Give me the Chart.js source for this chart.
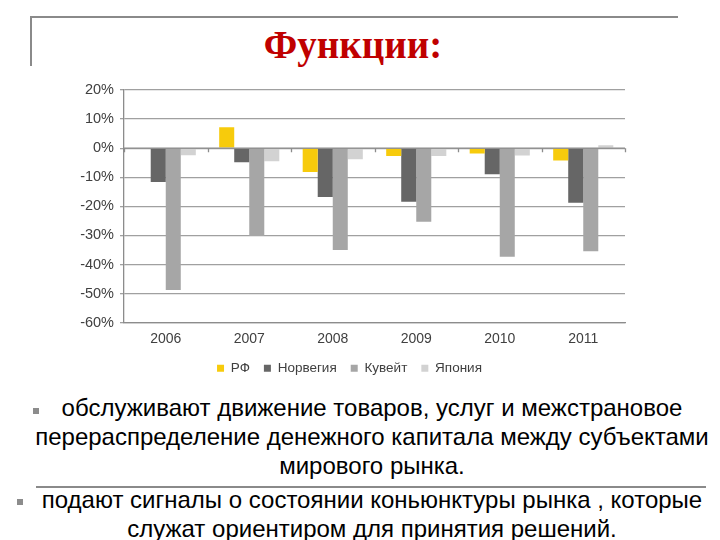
<!DOCTYPE html>
<html lang="ru">
<head>
<meta charset="UTF-8">
<title>Функции</title>
<script src="https://cdn.jsdelivr.net/npm/chart.js"></script>
<style>
  html, body { margin: 0; padding: 0; background: #fff; }
  .page { position: relative; width: 720px; height: 540px; overflow: hidden; }
  .frame-top { position: absolute; left: 30px; top: 16px; width: 648px; height: 0; border-top: 2px solid #8a8a8a; }
  .frame-left { position: absolute; left: 30px; top: 16px; width: 0; height: 50px; border-left: 2px solid #8a8a8a; }
  h1 { position: absolute; left: 0; width: 706px; top: 22px; margin: 0; text-align: center;
       font-family: "Liberation Serif", "DejaVu Serif", serif; font-weight: bold; font-size: 39px; color: #c00000; }
  #chartBox { position: absolute; left: 0; top: 0; width: 720px; height: 393px; }
  .txt { position: absolute; left: 12px; width: 720px; font-family: "Liberation Sans", Arial, sans-serif;
         font-size: 24px; line-height: 29px; color: #000; text-align: center; }
  .bullet { position: absolute; width: 6px; height: 6px; background: #8c8c8c; }
  .sep { position: absolute; left: 36px; top: 486px; width: 670px; height: 0; border-top: 2px solid #8a8a8a; }
</style>
</head>
<body>
<div class="page">
  <div class="frame-top"></div>
  <div class="frame-left"></div>
  <h1>Функции:</h1>
  <div id="chartBox"><canvas id="chart" width="720" height="393"></canvas></div>

  <div class="bullet" style="left:33px; top:408px;"></div>
  <div class="txt" style="top:393px;">обслуживают движение товаров, услуг и межстрановое<br>перераспределение денежного капитала между субъектами<br>мирового рынка.</div>
  <div class="sep"></div>
  <div class="bullet" style="left:17px; top:499px;"></div>
  <div class="txt" style="top:485px;">подают сигналы о состоянии коньюнктуры рынка , которые<br>служат ориентиром для принятия решений.</div>
</div>

<script>
const years = ['2006', '2007', '2008', '2009', '2010', '2011'];
const seriesNames = ['РФ', 'Норвегия', 'Кувейт', 'Япония'];
const rf = [0, 7.2, -8.2, -2.7, -1.8, -4.2];
const norway = [-11.6, -4.8, -16.8, -18.4, -9.0, -18.8];
const kuwait = [-48.8, -30.2, -35.0, -25.3, -37.3, -35.4];
const japan = [-2.4, -4.5, -3.8, -2.7, -2.5, 1.0];
const yTicks = [20, 10, 0, -10, -20, -30, -40, -50, -60];

const colors = ['#f7cb0c', '#666666', '#a6a6a6', '#d2d2d2'];
const values = [rf, norway, kuwait, japan];

// small tick marks on the zero line between categories (Excel style axis)
const zeroAxisTicks = {
  id: 'zeroAxisTicks',
  afterDatasetsDraw(chart) {
    const x = chart.scales.x, y = chart.scales.y;
    const y0 = y.getPixelForValue(0);
    const ctx = chart.ctx;
    ctx.save();
    ctx.strokeStyle = '#8c8c8c';
    ctx.lineWidth = 1.3;
    ctx.beginPath();
    ctx.moveTo(x.left, y0);
    ctx.lineTo(x.right, y0);
    const step = (x.right - x.left) / years.length;
    for (let i = 0; i <= years.length; i++) {
      const px = Math.round(x.left + i * step) + 0.5;
      ctx.moveTo(px, y0);
      ctx.lineTo(px, y0 + 4);
    }
    ctx.stroke();
    ctx.restore();
  }
};

new Chart(document.getElementById('chart').getContext('2d'), {
  type: 'bar',
  data: {
    labels: years,
    datasets: seriesNames.map((name, i) => ({
      label: name,
      data: values[i],
      backgroundColor: colors[i],
      borderWidth: 0,
      categoryPercentage: 0.72,
      barPercentage: 1.0
    }))
  },
  options: {
    responsive: false,
    animation: false,
    layout: { padding: { left: 74, right: 95, top: 90, bottom: 8 } },
    scales: {
      x: {
        grid: { display: false },
        border: { display: true, color: '#8c8c8c', width: 1.3 },
        ticks: { color: '#404040', font: { family: 'Liberation Sans', size: 14 }, padding: 0 }
      },
      y: {
        min: -60,
        max: 20,
        afterBuildTicks: s => { s.ticks = yTicks.map(v => ({ value: v })); },
        afterFit: s => { s.width = 50; },
        grid: { color: '#a0a0a0', lineWidth: 1.3, tickLength: 4 },
        border: { display: true, color: '#8c8c8c', width: 1.3 },
        ticks: {
          color: '#404040',
          font: { family: 'Liberation Sans', size: 14.5 },
          padding: 6,
          callback: v => v + '%'
        }
      }
    },
    plugins: {
      legend: {
        position: 'bottom',
        labels: {
          color: '#404040',
          font: { family: 'Liberation Sans', size: 13.5 },
          boxWidth: 7,
          boxHeight: 7,
          padding: 14
        }
      },
      tooltip: { enabled: false }
    }
  },
  plugins: [zeroAxisTicks]
});
</script>
</body>
</html>
